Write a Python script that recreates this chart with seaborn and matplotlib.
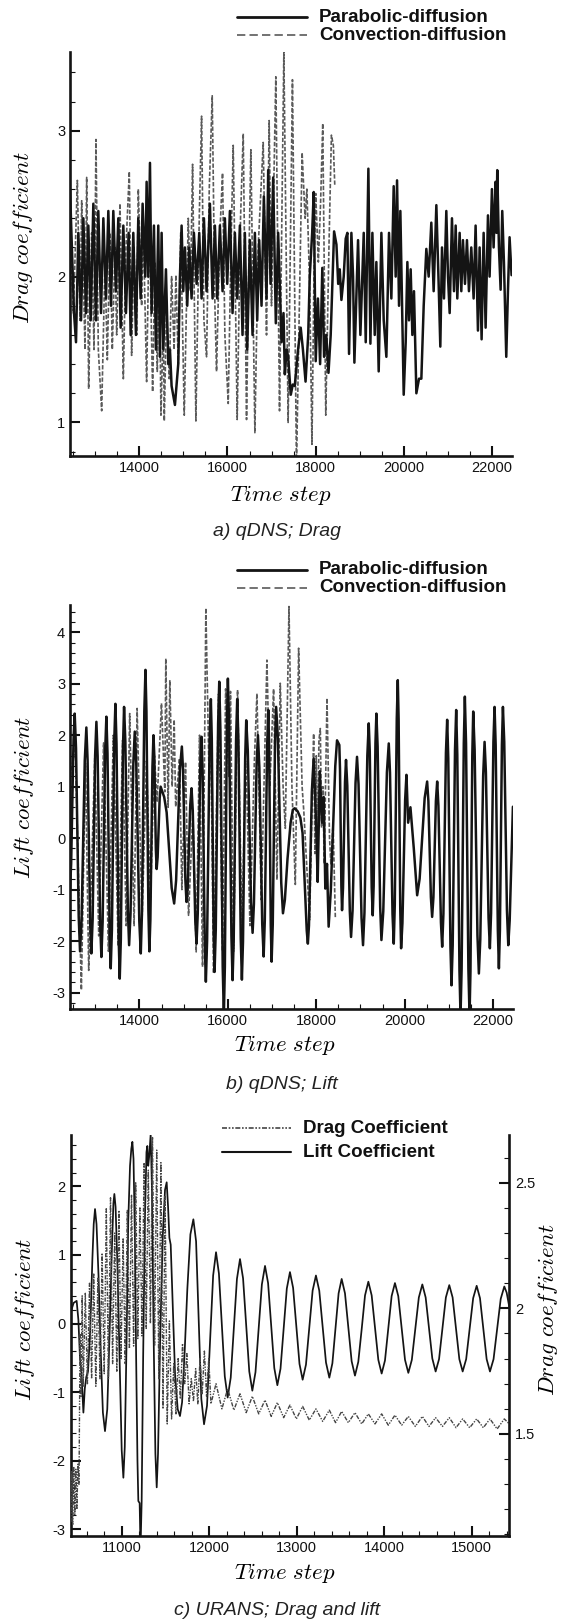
import matplotlib
matplotlib.use("Agg")
import matplotlib.pyplot as plt
import seaborn as sns
import pandas as pd
from matplotlib.lines import Line2D
from matplotlib.ticker import MultipleLocator, FuncFormatter

# ---- values: (time step, coefficient) ----

# a) qDNS drag
drag_parabolic = [
    (12430, 2.6), (12521, 1.75), (12566, 1.55), (12619, 2.3), (12680, 1.7), (12733, 2.4),
    (12793, 1.75), (12846, 2.35), (12899, 1.7), (12959, 2.5), (13019, 1.7), (13072, 2.45),
    (13133, 1.75), (13186, 2.4), (13246, 1.85), (13299, 2.45), (13359, 1.8), (13412, 2.45),
    (13472, 1.9), (13525, 2.4), (13578, 1.65), (13639, 2.35), (13699, 1.75), (13759, 2.3),
    (13805, 1.6), (13865, 2.3), (13925, 1.6), (13978, 2.4), (14031, 1.85), (14076, 2.5),
    (14137, 2.0), (14167, 2.65), (14205, 2.0), (14243, 2.78), (14280, 1.75), (14333, 2.35),
    (14378, 1.5), (14431, 2.35), (14469, 1.45), (14507, 2.3), (14545, 1.5), (14605, 2.05),
    (14658, 1.4), (14696, 1.5), (14733, 1.25), (14809, 1.12), (14884, 1.4), (14922, 2.0),
    (14960, 2.35), (14998, 1.9), (15035, 2.2), (15088, 1.8), (15133, 2.2), (15186, 1.85),
    (15239, 2.3), (15300, 1.95), (15360, 2.3), (15413, 1.85), (15466, 2.4), (15526, 1.9),
    (15602, 2.5), (15662, 1.85), (15715, 2.35), (15768, 1.85), (15828, 2.35), (15888, 1.9),
    (15941, 2.4), (15994, 1.95), (16055, 2.45), (16115, 1.75), (16168, 2.3), (16221, 1.85),
    (16281, 2.35), (16341, 1.6), (16394, 2.3), (16447, 1.5), (16508, 2.25), (16568, 1.6),
    (16621, 2.3), (16674, 1.7), (16719, 2.25), (16772, 1.8), (16825, 2.55), (16885, 1.85),
    (16923, 2.73), (16976, 1.95), (17036, 2.68), (17096, 1.68), (17149, 2.3), (17225, 1.55),
    (17270, 1.75), (17300, 1.33), (17340, 1.5), (17375, 1.45), (17435, 1.19), (17480, 1.26),
    (17525, 1.25), (17600, 1.5), (17660, 1.65), (17710, 1.5), (17770, 1.28), (17830, 1.6),
    (17865, 2.0), (17920, 2.3), (17955, 2.58), (18000, 1.42), (18050, 1.85), (18100, 1.4),
    (18150, 2.06), (18190, 1.45), (18240, 1.6), (18290, 1.34), (18340, 1.6), (18417, 2.31),
    (18470, 2.22), (18510, 1.95), (18545, 2.05), (18583, 1.84), (18635, 2.0), (18680, 2.26),
    (18718, 2.3), (18756, 1.47), (18809, 2.3), (18847, 2.0), (18877, 1.41), (18960, 2.25),
    (19013, 1.6), (19089, 2.3), (19134, 1.55), (19194, 2.74), (19240, 1.54), (19285, 2.3),
    (19338, 1.6), (19375, 2.1), (19428, 1.35), (19489, 2.3), (19542, 1.7), (19602, 1.45),
    (19662, 2.3), (19715, 1.85), (19768, 2.62), (19813, 2.0), (19844, 2.66), (19889, 1.8),
    (19919, 2.45), (19964, 1.7), (19995, 1.19), (20040, 1.55), (20078, 2.1), (20115, 1.7),
    (20153, 2.05), (20191, 1.6), (20228, 1.9), (20282, 1.2), (20342, 1.3), (20395, 1.3),
    (20448, 1.8), (20508, 2.19), (20561, 2.0), (20621, 2.37), (20674, 1.9), (20735, 2.49),
    (20787, 1.95), (20825, 1.52), (20863, 2.2), (20908, 1.85), (20961, 2.45), (20999, 2.0),
    (21037, 1.75), (21089, 2.4), (21135, 1.9), (21173, 2.35), (21210, 1.85), (21263, 2.3),
    (21301, 1.9), (21338, 2.25), (21384, 1.95), (21429, 2.25), (21474, 1.9), (21527, 2.2),
    (21580, 1.85), (21625, 2.35), (21678, 1.63), (21716, 2.2), (21761, 1.57), (21807, 2.3),
    (21852, 1.65), (21905, 2.42), (21942, 2.0), (21995, 2.6), (22033, 2.2), (22078, 2.65),
    (22097, 2.3), (22116, 2.73), (22154, 2.2), (22192, 1.91), (22229, 2.45), (22267, 2.1),
    (22320, 1.45), (22358, 1.9), (22395, 2.27), (22440, 2.01),
]
drag_convection = [
    (12430, 2.3), (12506, 1.75), (12597, 2.66), (12657, 1.7), (12695, 2.52), (12770, 1.5),
    (12808, 2.68), (12853, 1.23), (12921, 2.3), (12974, 1.5), (13019, 2.94), (13072, 1.5),
    (13148, 1.08), (13223, 2.1), (13276, 1.43), (13337, 2.3), (13389, 1.5), (13450, 2.2),
    (13488, 1.6), (13563, 2.5), (13639, 1.3), (13699, 2.2), (13774, 2.72), (13827, 1.46),
    (13880, 2.2), (13941, 1.6), (13978, 2.6), (14054, 1.8), (14092, 2.35), (14167, 1.28),
    (14227, 2.4), (14303, 1.21), (14356, 2.1), (14409, 1.35), (14454, 2.1), (14492, 1.05),
    (14545, 1.7), (14567, 1.01), (14620, 1.8), (14680, 1.3), (14733, 2.0), (14790, 1.5),
    (14831, 2.01), (14884, 1.4), (14940, 2.3), (15020, 1.05), (15111, 2.4), (15160, 1.9),
    (15209, 2.77), (15284, 1.01), (15360, 2.4), (15413, 3.1), (15466, 1.7), (15526, 1.45),
    (15587, 2.6), (15654, 3.24), (15715, 1.8), (15752, 1.35), (15828, 2.3), (15888, 2.71),
    (15941, 1.6), (16017, 1.13), (16080, 2.2), (16130, 2.9), (16220, 1.02), (16296, 2.4),
    (16357, 2.98), (16432, 1.02), (16490, 2.2), (16530, 2.87), (16621, 0.93), (16696, 2.2),
    (16810, 2.92), (16885, 1.6), (16945, 3.07), (16998, 1.8), (17096, 3.37), (17180, 1.08),
    (17278, 3.54), (17375, 1.0), (17473, 3.35), (17564, 0.7), (17692, 2.85), (17760, 2.4),
    (17800, 2.6), (17866, 1.9), (17915, 0.85), (17960, 2.0), (18000, 2.57), (18060, 2.1),
    (18110, 2.5), (18160, 3.05), (18228, 1.05), (18300, 2.2), (18356, 2.97), (18400, 2.9),
    (18432, 2.63),
]

# b) qDNS lift
lift_parabolic = [
    (12430, -1.0), (12456, -0.5), (12510, 1.92), (12536, 2.42), (12566, 1.75), (12627, -1.53),
    (12657, -2.2), (12693, -1.56), (12764, 1.51), (12800, 2.15), (12828, 1.51), (12885, -1.6),
    (12913, -2.24), (12942, -1.58), (12998, 1.6), (13027, 2.26), (13055, 1.59), (13112, -1.64),
    (13140, -2.31), (13168, -1.63), (13225, 1.68), (13253, 2.36), (13278, 1.65), (13327, -1.82),
    (13351, -2.53), (13378, -1.78), (13430, 1.86), (13457, 2.61), (13482, 1.83), (13531, -1.95),
    (13555, -2.73), (13580, -1.96), (13629, 1.78), (13653, 2.55), (13682, 1.87), (13739, -1.4),
    (13767, -2.08), (13799, -1.47), (13863, 1.46), (13895, 2.07), (13929, 1.44), (13997, -1.61),
    (14031, -2.24), (14058, -1.44), (14111, 2.47), (14137, 3.27), (14159, 2.47), (14203, -1.4),
    (14225, -2.2), (14248, -1.59), (14295, 1.39), (14318, 2.0), (14336, 1.62), (14372, -0.22),
    (14390, -0.6), (14412, -0.37), (14458, 0.77), (14480, 1.0), (14560, 0.8), (14616, 0.5),
    (14730, -0.97), (14786, -1.27), (14830, -0.82), (14916, 1.33), (14960, 1.78), (14986, 1.34),
    (15039, -0.8), (15065, -1.24), (15094, -0.92), (15150, 0.65), (15179, 0.97), (15207, 0.53),
    (15264, -1.61), (15292, -2.05), (15320, -1.46), (15377, 1.38), (15405, 1.97), (15430, 1.27),
    (15479, -2.09), (15503, -2.79), (15531, -1.99), (15588, 1.9), (15616, 2.7), (15637, 1.93),
    (15679, -1.83), (15700, -2.6), (15727, -1.78), (15780, 2.22), (15806, 3.04), (15832, 2.09),
    (15884, -2.5), (15910, -3.45), (15933, -2.49), (15978, 2.14), (16001, 3.1), (16028, 2.24),
    (16081, -1.9), (16107, -2.76), (16133, -1.96), (16186, 1.9), (16212, 2.7), (16239, 1.9),
    (16292, -1.95), (16318, -2.75), (16343, -2.01), (16392, 1.55), (16416, 2.29), (16452, 1.69),
    (16524, -1.24), (16560, -1.84), (16590, -1.28), (16651, 1.44), (16681, 2.0), (16713, 1.37),
    (16778, -1.67), (16810, -2.3), (16836, -1.6), (16889, 1.79), (16915, 2.49), (16934, 1.78),
    (16971, -1.69), (16990, -2.4), (17016, -1.68), (17067, 1.83), (17092, 2.55), (17131, 1.96),
    (17208, -0.87), (17247, -1.46), (17290, -1.2), (17350, -0.4), (17420, 0.3), (17470, 0.55),
    (17511, 0.58), (17580, 0.52), (17640, 0.4), (17690, 0.1), (17740, -0.9), (17785, -1.8),
    (17810, -2.05), (17835, -1.7), (17900, 0.9), (17941, 1.55), (18000, 0.2), (18032, -0.85),
    (18080, 1.3), (18130, 0.3), (18168, 0.8), (18205, -0.98), (18243, -0.5), (18280, -1.72),
    (18330, -1.0), (18394, 0.5), (18430, 1.4), (18470, 1.9), (18522, 1.81), (18537, 1.34),
    (18568, -0.93), (18583, -1.4), (18605, -0.97), (18650, 1.09), (18673, 1.52), (18702, 1.02),
    (18759, -1.42), (18787, -1.92), (18821, -1.41), (18888, 1.07), (18922, 1.58), (18956, 1.05),
    (19024, -1.55), (19058, -2.08), (19090, -1.45), (19155, 1.6), (19187, 2.23), (19210, 1.69),
    (19254, -0.96), (19277, -1.5), (19298, -0.93), (19339, 1.85), (19360, 2.42), (19388, 1.78),
    (19446, -1.34), (19474, -1.98), (19516, -1.42), (19598, 1.28), (19640, 1.84), (19668, 1.27),
    (19725, -1.48), (19753, -2.05), (19776, -1.3), (19821, 2.32), (19844, 3.07), (19863, 2.31),
    (19900, -1.38), (19919, -2.14), (19949, -1.65), (20010, 0.74), (20040, 1.23), (20078, 0.3),
    (20130, 0.6), (20206, -0.2), (20282, -1.11), (20338, -0.79), (20452, 0.78), (20508, 1.1),
    (20536, 0.72), (20593, -1.15), (20621, -1.53), (20650, -1.15), (20706, 0.72), (20735, 1.1),
    (20763, 0.63), (20820, -1.64), (20848, -2.11), (20876, -1.47), (20933, 1.66), (20961, 2.3),
    (20986, 1.55), (21035, -2.11), (21059, -2.86), (21086, -2.08), (21138, 1.71), (21165, 2.49),
    (21190, 1.62), (21239, -2.58), (21263, -3.45), (21288, -2.54), (21337, 1.84), (21361, 2.75),
    (21388, 1.84), (21441, -2.54), (21467, -3.45), (21488, -2.59), (21529, 1.6), (21550, 2.46),
    (21582, 1.72), (21646, -1.89), (21678, -2.63), (21710, -1.97), (21775, 1.21), (21807, 1.87),
    (21837, 1.28), (21897, -1.55), (21927, -2.14), (21954, -1.46), (22007, 1.87), (22033, 2.55),
    (22058, 1.81), (22107, -1.79), (22131, -2.53), (22154, -1.79), (22199, 1.81), (22222, 2.55),
    (22252, 1.87), (22313, -1.4), (22343, -2.08), (22375, -1.6), (22448, 0.61),
]
lift_convection = [
    (12430, 1.2), (12550, 1.75), (12687, -2.95), (12780, 1.45), (12853, -2.57), (12990, 1.55),
    (13080, -1.9), (13190, 1.85), (13300, -2.2), (13410, 2.0), (13520, -2.1), (13620, 1.9),
    (13700, -1.7), (13780, 2.42), (13880, -1.7), (13948, 2.52), (14060, -1.6), (14160, 1.5),
    (14250, -1.2), (14340, 1.6), (14400, 0.7), (14499, 2.62), (14575, 0.9), (14597, 3.49),
    (14650, 0.6), (14688, 3.07), (14740, 1.0), (14786, 2.3), (14820, 0.61), (14907, 1.55),
    (14960, -1.0), (15043, 1.48), (15111, -1.5), (15209, 0.5), (15284, -2.21), (15360, 2.0),
    (15428, -2.5), (15503, 4.47), (15580, 1.0), (15610, 2.3), (15677, -2.63), (15790, 2.8),
    (15880, -2.2), (15950, 2.9), (16020, 1.2), (16060, 2.85), (16130, -2.2), (16220, 2.88),
    (16319, -1.8), (16400, 1.5), (16432, 0.8), (16500, -1.7), (16600, 1.5), (16658, 2.81),
    (16757, -1.2), (16884, 3.46), (16950, 1.0), (17035, 2.9), (17111, -0.81), (17186, 3.01),
    (17250, 1.0), (17300, 0.19), (17383, 4.5), (17450, 1.0), (17526, -0.9), (17601, 3.69),
    (17680, 1.0), (17720, 0.5), (17850, -1.59), (17941, 2.03), (17970, -0.3), (18000, 1.6),
    (18030, -0.2), (18060, 1.9), (18092, 2.13), (18120, 0.2), (18150, 1.0), (18180, -0.5),
    (18243, 2.72), (18300, 0.0), (18330, -0.5), (18380, 0.3), (18432, -1.56),
]

# c) URANS lift (left axis) and drag (right axis)
urans_lift = [
    (10417, 0.16), (10450, 0.30), (10485, 0.33), (10505, 0.05), (10523, -0.50), (10540, -0.72),
    (10562, -1.30), (10578, -0.95), (10595, -0.78), (10615, -0.70), (10640, -0.10), (10665, 0.95),
    (10680, 1.45), (10695, 1.67), (10712, 1.45), (10735, 0.70), (10760, -0.40), (10785, -1.30),
    (10809, -1.57), (10835, -1.25), (10860, -0.20), (10888, 1.10), (10905, 1.75), (10916, 1.89),
    (10930, 1.70), (10950, 0.90), (10975, -0.50), (11000, -1.85), (11019, -2.25), (11035, -1.80),
    (11055, -0.30), (11075, 1.50), (11095, 2.30), (11110, 2.55), (11122, 2.65), (11135, 2.40),
    (11150, 1.30), (11165, -0.50), (11180, -2.00), (11190, -2.59), (11205, -2.62), (11215, -3.30),
    (11228, -2.60), (11245, -0.50), (11265, 1.50), (11283, 2.50), (11293, 2.59), (11303, 2.30),
    (11315, 2.45), (11331, 2.76), (11345, 2.00), (11365, -0.20), (11385, -1.90), (11400, -2.39),
    (11415, -1.90), (11440, -0.20), (11470, 1.30), (11495, 1.95), (11514, 2.06), (11530, 1.70),
    (11545, 1.25), (11560, 1.15), (11585, 0.20), (11610, -0.75), (11640, -1.25), (11666, -1.35),
    (11690, -1.15), (11720, -0.40), (11750, 0.50), (11785, 1.30), (11819, 1.52), (11850, 1.20),
    (11880, 0.05), (11910, -1.10), (11941, -1.47), (11975, -1.20), (12010, -0.25), (12045, 0.70),
    (12078, 1.04), (12111, 0.73), (12145, -0.02), (12178, -0.77), (12211, -1.08),
    (12246, -0.79), (12282, -0.07), (12317, 0.65), (12352, 0.94),
    (12387, 0.66), (12423, -0.02), (12458, -0.70), (12493, -0.98),
    (12529, -0.71), (12566, -0.07), (12602, 0.57), (12638, 0.84),
    (12673, 0.59), (12709, -0.03), (12744, -0.65), (12779, -0.90),
    (12815, -0.66), (12851, -0.08), (12887, 0.51), (12923, 0.75),
    (12959, 0.52), (12996, -0.04), (13032, -0.59), (13068, -0.82),
    (13106, -0.60), (13144, -0.06), (13182, 0.48), (13220, 0.70),
    (13258, 0.48), (13297, -0.05), (13335, -0.57), (13373, -0.79),
    (13408, -0.58), (13444, -0.07), (13479, 0.44), (13514, 0.65),
    (13552, 0.44), (13590, -0.06), (13628, -0.55), (13666, -0.76),
    (13704, -0.56), (13743, -0.08), (13781, 0.41), (13819, 0.61),
    (13857, 0.41), (13895, -0.06), (13933, -0.53), (13971, -0.73),
    (14009, -0.54), (14047, -0.07), (14085, 0.40), (14123, 0.59),
    (14161, 0.40), (14200, -0.07), (14238, -0.53), (14276, -0.72),
    (14316, -0.53), (14356, -0.08), (14396, 0.38), (14436, 0.57),
    (14474, 0.38), (14512, -0.07), (14550, -0.51), (14588, -0.70),
    (14627, -0.52), (14666, -0.07), (14705, 0.38), (14744, 0.56),
    (14782, 0.38), (14821, -0.07), (14859, -0.52), (14897, -0.70),
    (14937, -0.52), (14977, -0.08), (15017, 0.37), (15057, 0.55),
    (15095, 0.37), (15133, -0.08), (15171, -0.52), (15209, -0.70),
    (15250, -0.52), (15291, -0.08), (15332, 0.36), (15373, 0.54),
    (15400, 0.45), (15430, 0.24),
]
urans_drag = [
    (10420, 1.15), (10428, 1.35), (10440, 1.14), (10452, 1.37), (10464, 1.18), (10476, 1.36),
    (10488, 1.20), (10500, 1.38), (10512, 1.30), (10524, 1.90), (10536, 1.65), (10548, 2.05),
    (10560, 1.69), (10584, 2.06), (10608, 1.70), (10632, 2.10), (10656, 1.72), (10680, 2.14),
    (10704, 1.69), (10728, 2.12), (10752, 1.72), (10776, 2.22), (10800, 1.74), (10824, 2.40),
    (10848, 1.72), (10872, 2.44), (10896, 1.78), (10920, 2.30), (10944, 1.75), (10968, 2.39),
    (10992, 1.80), (11016, 2.28), (11040, 1.78), (11064, 2.39), (11088, 1.84), (11112, 2.45),
    (11136, 1.85), (11160, 2.50), (11184, 1.88), (11208, 2.40), (11232, 1.89), (11256, 2.58),
    (11280, 1.92), (11304, 2.55), (11328, 1.94), (11352, 2.68), (11376, 1.85), (11400, 2.63),
    (11424, 1.72), (11448, 2.58), (11472, 1.60), (11496, 2.45), (11520, 1.54),
    (11545, 1.95), (11570, 1.56), (11595, 1.78), (11620, 1.58), (11645, 1.80), (11670, 1.64),
    (11695, 1.86), (11720, 1.70), (11745, 1.82), (11770, 1.62), (11795, 1.72), (11820, 1.63),
    (11845, 1.76), (11870, 1.62), (11895, 1.80), (11920, 1.66), (11945, 1.83), (11970, 1.65),
    (11995, 1.80), (12020, 1.62),
    (12078, 1.70), (12145, 1.60), (12211, 1.68), (12282, 1.595), (12352, 1.66), (12423, 1.585),
    (12493, 1.65), (12566, 1.58), (12638, 1.635), (12709, 1.57), (12779, 1.625), (12851, 1.565),
    (12923, 1.615), (12996, 1.56), (13068, 1.61), (13144, 1.555), (13220, 1.60), (13297, 1.55),
    (13373, 1.595), (13444, 1.545), (13514, 1.59), (13590, 1.545), (13666, 1.585), (13743, 1.54),
    (13819, 1.58), (13895, 1.54), (13971, 1.58), (14047, 1.535), (14123, 1.575), (14200, 1.535),
    (14276, 1.57), (14356, 1.53), (14436, 1.57), (14512, 1.53), (14588, 1.565), (14666, 1.53),
    (14744, 1.565), (14821, 1.525), (14897, 1.56), (14977, 1.525), (15057, 1.56), (15133, 1.525),
    (15209, 1.56), (15291, 1.52), (15373, 1.56), (15430, 1.54),
]

legend_qdns = ["Parabolic-diffusion", "Convection-diffusion"]
legend_urans = ["Drag Coefficient", "Lift Coefficient"]
captions = ["a) qDNS; Drag", "b) qDNS; Lift", "c) URANS; Drag and lift"]

# ---- style ----
sns.set_theme(style="ticks")
plt.rcParams["font.family"] = ["Liberation Sans", "DejaVu Sans"]
plt.rcParams["mathtext.fontset"] = "cm"
plt.rcParams["axes.unicode_minus"] = False
plt.rcParams["text.color"] = "black"
plt.rcParams["axes.labelcolor"] = "black"
plt.rcParams["xtick.color"] = "#111111"
plt.rcParams["ytick.color"] = "#111111"

W, H = 568, 1619
BLACK = "#141414"
GRAY = "#5a5a5a"
CAP_FONT = ["Liberation Sans Narrow", "Liberation Sans"]

fig = plt.figure(figsize=(W / 100, H / 100), dpi=100)


def box(l, t, r, b):
    return [l / W, 1 - b / H, (r - l) / W, (b - t) / H]


def to_df(pairs):
    return pd.DataFrame(pairs, columns=["step", "value"])


def draw(ax, pairs, color, lw, dashes=None):
    sns.lineplot(data=to_df(pairs), x="step", y="value", ax=ax, color=color,
                 linewidth=lw, sort=False, estimator=None, legend=False)
    line = ax.lines[-1]
    line.set_solid_joinstyle("round")
    if dashes is not None:
        line.set_dashes(dashes)
    return line


def style_axis(ax, xmaj, xmin, ymaj, ymin):
    ax.xaxis.set_major_locator(MultipleLocator(xmaj))
    ax.xaxis.set_minor_locator(MultipleLocator(xmin))
    ax.yaxis.set_major_locator(MultipleLocator(ymaj))
    ax.yaxis.set_minor_locator(MultipleLocator(ymin))
    ax.yaxis.set_major_formatter(FuncFormatter(lambda v, p: f"{v:g}"))
    ax.tick_params(which="both", direction="in", labelsize=10.5, pad=3.5,
                   top=False, right=False)
    ax.tick_params(which="major", length=7, width=1.5)
    ax.tick_params(which="minor", length=3.5, width=0.8)
    for side in ["left", "bottom"]:
        ax.spines[side].set_linewidth(1.9)
        ax.spines[side].set_color(BLACK)
    ax.spines["top"].set_visible(False)
    ax.spines["right"].set_visible(False)
    ax.set_facecolor("white")


def legend_row(x0, x1, y, text, color, lw, dashes=None):
    yy = 1 - y / H
    ln = Line2D([x0 / W, x1 / W], [yy, yy], transform=fig.transFigure,
                color=color, linewidth=lw)
    if dashes is not None:
        ln.set_dashes(dashes)
    fig.add_artist(ln)
    fig.text((x1 + 12) / W, yy, text, fontsize=13.5, fontweight="bold",
             ha="left", va="center", color="#111111")


# ---- a) drag ----
ax_a = fig.add_axes(box(70, 52, 512, 456))
draw(ax_a, drag_parabolic, BLACK, 1.8)
draw(ax_a, drag_convection, GRAY, 1.2, dashes=(2.6, 1.1))
ax_a.lines[-2].set_zorder(3)
ax_a.set_xlim(12430, 22450)
ax_a.set_ylim(0.77, 3.54)
style_axis(ax_a, 2000, 500, 1, 0.2)
ax_a.set_xlabel(r"$Time\ step$", fontsize=16.5, va="center")
ax_a.set_ylabel(r"$Drag\ coefficient$", fontsize=16.5, va="center")
ax_a.xaxis.set_label_coords(0.477, -0.097)
ax_a.yaxis.set_label_coords(-0.106, 0.54)
legend_row(237, 307, 17, legend_qdns[0], BLACK, 2.0)
legend_row(237, 307, 35, legend_qdns[1], GRAY, 1.2, dashes=(5, 2.5))
fig.text(277 / W, 1 - 531 / H, captions[0], fontsize=14, style="italic",
         family=CAP_FONT, ha="center", va="center", color="#222222")

# ---- b) lift ----
ax_b = fig.add_axes(box(70, 605, 513, 1009))
draw(ax_b, lift_parabolic, BLACK, 1.8)
draw(ax_b, lift_convection, GRAY, 1.2, dashes=(2.6, 1.1))
ax_b.lines[-2].set_zorder(3)
ax_b.set_xlim(12430, 22450)
ax_b.set_ylim(-3.32, 4.53)
style_axis(ax_b, 2000, 500, 1, 0.2)
ax_b.set_xlabel(r"$Time\ step$", fontsize=16.5, va="center")
ax_b.set_ylabel(r"$Lift\ coefficient$", fontsize=16.5, va="center")
ax_b.xaxis.set_label_coords(0.485, -0.089)
ax_b.yaxis.set_label_coords(-0.104, 0.525)
legend_row(237, 307, 570, legend_qdns[0], BLACK, 2.0)
legend_row(237, 307, 588, legend_qdns[1], GRAY, 1.2, dashes=(5, 2.5))
fig.text(282 / W, 1 - 1084 / H, captions[1], fontsize=14, style="italic",
         family=CAP_FONT, ha="center", va="center", color="#222222")

# ---- c) URANS ----
ax_c = fig.add_axes(box(70.7, 1135, 509.3, 1536))
draw(ax_c, urans_lift, BLACK, 1.25)
ax_c.set_xlim(10417, 15430)
ax_c.set_ylim(-3.1, 2.75)
style_axis(ax_c, 1000, 200, 1, 0.2)
ax_c.set_xlabel(r"$Time\ step$", fontsize=16.5, va="center")
ax_c.set_ylabel(r"$Lift\ coefficient$", fontsize=16.5, va="center")
ax_c.xaxis.set_label_coords(0.489, -0.092)
ax_c.yaxis.set_label_coords(-0.104, 0.539)

ax_r = ax_c.twinx()
draw(ax_r, urans_drag, "#444444", 1.0, dashes=(3, 1, 1, 1, 1, 1))
ax_r.set_xlim(10417, 15430)
ax_r.set_ylim(1.094, 2.69)
ax_r.yaxis.set_major_locator(MultipleLocator(0.5))
ax_r.yaxis.set_minor_locator(MultipleLocator(0.1))
ax_r.yaxis.set_major_formatter(FuncFormatter(lambda v, p: f"{v:g}"))
ax_r.tick_params(which="both", direction="in", labelsize=10.5, pad=4,
                 left=False, right=True, labelright=True)
ax_r.tick_params(which="major", length=7, width=1.5)
ax_r.tick_params(which="minor", length=3.5, width=0.8)
ax_r.spines["right"].set_visible(True)
ax_r.spines["right"].set_linewidth(1.9)
ax_r.spines["right"].set_color(BLACK)
for side in ["top", "left", "bottom"]:
    ax_r.spines[side].set_visible(False)
ax_r.yaxis.set_label_position("right")
ax_r.set_ylabel(r"$Drag\ coefficient$", fontsize=16.5, rotation=90)
ax_r.yaxis.label.set_verticalalignment("center")
ax_r.yaxis.set_label_coords(1.088, 0.564)
legend_row(222, 291, 1128, legend_urans[0], "#444444", 1.2, dashes=(3, 1, 1, 1, 1, 1))
legend_row(222, 291, 1152, legend_urans[1], BLACK, 1.5)
fig.text(277 / W, 1 - 1610 / H, captions[2], fontsize=14, style="italic",
         family=CAP_FONT, ha="center", va="center", color="#222222")

fig.savefig("out.png", dpi=100, facecolor="white")
